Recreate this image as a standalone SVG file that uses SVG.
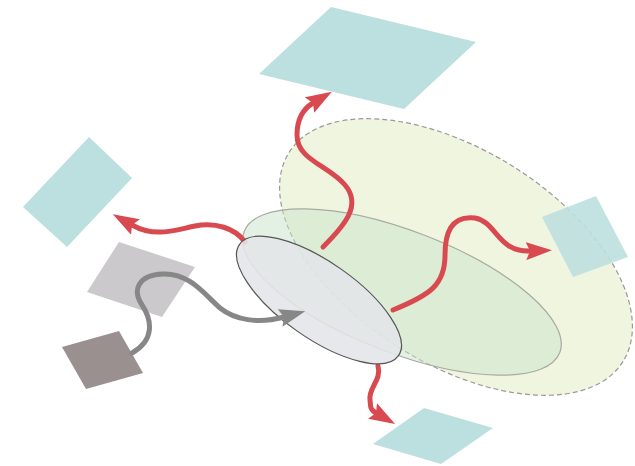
<svg xmlns="http://www.w3.org/2000/svg" width="635" height="466" viewBox="0 0 635 466">
<defs>
<style>
.teal{fill:#bcdfdf}
.red{fill:none;stroke:#d94950;stroke-width:5;stroke-linecap:round}
.grey{fill:none;stroke:#878787;stroke-width:5;stroke-linecap:round}
</style>
<marker id="ahr" markerUnits="userSpaceOnUse" markerWidth="28" markerHeight="18" viewBox="0 0 28 18" refX="4" refY="9" orient="auto">
<path d="M0,0 L26,9 L0,18 L4,9 z" fill="#d94950"/>
</marker>
<marker id="ahg" markerUnits="userSpaceOnUse" markerWidth="28" markerHeight="18" viewBox="0 0 28 18" refX="4" refY="9" orient="auto">
<path d="M0,0 L26,9 L0,18 L4,9 z" fill="#878787"/>
</marker>
</defs>
<rect width="635" height="466" fill="#ffffff"/>
<g id="zone-outer">
<ellipse cx="456" cy="257" rx="197" ry="107" transform="rotate(32 456 257)" fill="#f0f5e0" stroke="#999999" stroke-width="1.2" stroke-dasharray="5,3"/>
</g>
<g id="zone-inner">
<ellipse cx="402" cy="292" rx="169" ry="61" transform="rotate(21 402 292)" fill="#c7e3c9" fill-opacity="0.5" stroke="#a8aaa2" stroke-width="1.2"/>
</g>
<g id="target-top"><polygon class="teal" points="331,7 476,42 404,109 259,74"/></g>
<g id="target-left"><polygon class="teal" points="89,137 132,178 67,247 23,207"/></g>
<g id="target-right"><polygon class="teal" points="542,217 596,196 628,257 573,277" fill-opacity="0.9"/></g>
<g id="target-bottom"><polygon class="teal" points="424,408 493,428 441,464 373,444"/></g>
<g id="source-light"><polygon points="119,242 195,267 162,317 87,292" fill="#cbc9cb"/></g>
<g id="source-dark"><polygon points="62,347 119,331 143,373 86,389" fill="#9b9090"/></g>
<g id="connectors">
<path class="red" d="M323,247 C345,225 362,205 345,185 C328,165 297,160 297,135 C297,120 303,109 313,103" marker-end="url(#ahr)"/>
<path class="red" d="M245,242 C235,228 215,222 195,226 C175,230 155,238 132,225" marker-end="url(#ahr)"/>
<path class="red" d="M393,310 C430,295 445,285 445,255 C445,235 450,215 475,218 C497,222 497,252 530,251" marker-end="url(#ahr)"/>
<path class="red" d="M378,366 C382,380 368,388 370,400 C371,406 369,409 376,413" marker-end="url(#ahr)"/>
</g>
<g id="disc">
<ellipse cx="319" cy="300" rx="97" ry="38" transform="rotate(35 319 300)" fill="#e4e5e8" fill-opacity="0.88" stroke="#555555" stroke-width="1.2"/>
</g>
<g id="connector-grey">
<path class="grey" d="M132,353 C155,340 152,320 142,305 C132,290 138,275 163,274 C190,273 205,295 220,308 C235,320 258,324 284,317" marker-end="url(#ahg)"/>
</g>
</svg>
